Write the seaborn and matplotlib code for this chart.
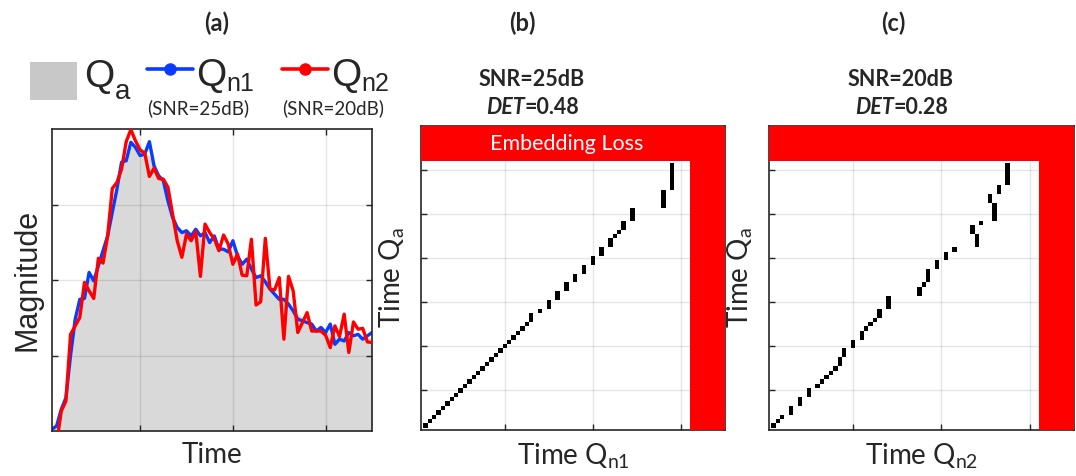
import matplotlib
matplotlib.use("Agg")
import matplotlib.pyplot as plt
import seaborn as sns
import pandas as pd
from matplotlib.patches import Rectangle

# ---------------- data ----------------
time_idx = [1, 2, 3, 4, 5, 6, 7, 8, 9, 10, 11, 12, 13, 14, 15, 16, 17, 18, 19, 20,
            21, 22, 23, 24, 25, 26, 27, 28, 29, 30, 31, 32, 33, 34, 35, 36, 37, 38, 39, 40,
            41, 42, 43, 44, 45, 46, 47, 48, 49, 50, 51, 52, 53, 54, 55, 56, 57, 58, 59, 60,
            61, 62, 63, 64, 65, 66, 67, 68, 69, 70]

qa = [0.0, 0.02, 0.07, 0.12, 0.26, 0.36, 0.42, 0.46, 0.50, 0.52,
      0.56, 0.60, 0.66, 0.73, 0.80, 0.87, 0.91, 0.94, 0.94, 0.93,
      0.92, 0.91, 0.88, 0.85, 0.82, 0.77, 0.72, 0.68, 0.665, 0.655,
      0.65, 0.645, 0.64, 0.635, 0.63, 0.62, 0.61, 0.60, 0.59, 0.58,
      0.57, 0.56, 0.55, 0.535, 0.52, 0.505, 0.49, 0.475, 0.46, 0.445,
      0.43, 0.42, 0.405, 0.39, 0.375, 0.36, 0.35, 0.34, 0.335, 0.33,
      0.325, 0.32, 0.315, 0.31, 0.31, 0.31, 0.31, 0.31, 0.31, 0.31]

qn1 = [0.006, 0.017, 0.072, 0.11, 0.25, 0.37, 0.436, 0.439, 0.525, 0.497,
       0.547, 0.597, 0.646, 0.724, 0.801, 0.890, 0.895, 0.956, 0.939, 0.912,
       0.917, 0.958, 0.878, 0.845, 0.829, 0.762, 0.707, 0.674, 0.657, 0.663,
       0.646, 0.668, 0.646, 0.657, 0.624, 0.646, 0.602, 0.602, 0.593, 0.630,
       0.580, 0.552, 0.569, 0.536, 0.508, 0.514, 0.494, 0.470, 0.453, 0.436,
       0.436, 0.420, 0.398, 0.370, 0.365, 0.359, 0.354, 0.331, 0.343, 0.326,
       0.354, 0.287, 0.304, 0.298, 0.326, 0.315, 0.320, 0.304, 0.315, 0.326]

qn2 = [-0.05, -0.04, 0.066, 0.099, 0.320, 0.348, 0.376, 0.492, 0.464, 0.439,
       0.572, 0.556, 0.646, 0.803, 0.823, 0.867, 0.958, 0.998, 0.961, 0.931,
       0.920, 0.843, 0.870, 0.836, 0.834, 0.807, 0.718, 0.630, 0.575, 0.652,
       0.630, 0.660, 0.512, 0.685, 0.657, 0.635, 0.597, 0.649, 0.619, 0.552,
       0.586, 0.516, 0.514, 0.635, 0.417, 0.428, 0.638, 0.470, 0.467, 0.508,
       0.304, 0.512, 0.464, 0.326, 0.359, 0.392, 0.331, 0.331, 0.331, 0.317,
       0.276, 0.348, 0.313, 0.387, 0.260, 0.361, 0.337, 0.340, 0.295, 0.293]

# recurrence plots: column, first row, number of consecutive recurrent rows
rp_b_col = [2, 3, 4, 5, 6, 7, 8, 9, 10, 11, 12, 13, 14, 15, 16, 17, 18, 19, 20, 21,
            22, 23, 24, 25, 26, 28, 30, 32, 34, 36, 38, 40, 42, 44, 45, 46, 47, 49, 56, 58]
rp_b_row = [2, 3, 4, 5, 6, 7, 8, 9, 10, 11, 12, 13, 14, 15, 16, 17, 18, 19, 20, 21,
            22, 23, 24, 25, 26, 28, 29, 31, 33, 35, 37, 39, 41, 43, 45, 46, 47, 49, 52, 56]
rp_b_len = [1, 1, 1, 1, 1, 1, 1, 1, 1, 1, 1, 1, 1, 1, 1, 1, 1, 1, 1, 1,
            1, 1, 1, 1, 2, 1, 2, 2, 2, 2, 2, 2, 2, 2, 1, 1, 2, 3, 4, 6]

rp_c_col = [2, 3, 4, 6, 8, 10, 12, 13, 14, 15, 16, 17, 18, 20, 22, 23, 24, 25, 26, 28,
            35, 36, 37, 39, 41, 43, 47, 48, 49, 51, 52, 53, 55]
rp_c_row = [2, 3, 4, 5, 7, 9, 11, 12, 13, 14, 15, 16, 18, 20, 22, 24, 25, 26, 27, 29,
            32, 34, 35, 38, 40, 42, 46, 43, 48, 53, 49, 55, 57]
rp_c_len = [1, 1, 1, 2, 2, 2, 1, 1, 1, 1, 1, 2, 2, 2, 2, 1, 1, 1, 2, 3,
            2, 1, 3, 2, 2, 1, 2, 3, 1, 2, 4, 2, 5]

n_valid = 62      # end of the valid (non-embedding-loss) region
n_total = 70

x_ticks = [20, 40, 60]
y_ticks_a = [0.25, 0.5, 0.75]
y_ticks_rp = [10, 20, 30, 40, 50, 60]

BLUE = "#0a3cff"
RED = "#ff0000"
GRAY = "#d9d9d9"

# ---------------- style ----------------
sns.set_style("ticks")
plt.rcParams["font.family"] = ["Lato", "DejaVu Sans"]
plt.rcParams["mathtext.fontset"] = "custom"
plt.rcParams["mathtext.rm"] = "Lato"
plt.rcParams["mathtext.it"] = "Lato:italic"
plt.rcParams["mathtext.bf"] = "Lato:bold"

W, H = 1076, 476
fig = plt.figure(figsize=(W / 100, H / 100), dpi=100)


def fax(l, t, w, h):
    return fig.add_axes([l / W, (H - t - h) / H, w / W, h / H])


ax_a = fax(52, 129, 320, 302)
ax_b = fax(421, 126, 304, 304)
ax_c = fax(769, 126, 305, 304)


def style_axes(ax, yt):
    ax.set_xticks(x_ticks)
    ax.set_yticks(yt)
    ax.tick_params(direction="in", length=4, width=1, top=True, right=True,
                   labelbottom=False, labelleft=False, color="#262626")
    ax.grid(True, color="k", alpha=0.10, lw=1)
    ax.set_axisbelow(True)
    for s in ax.spines.values():
        s.set_color("#262626")
        s.set_linewidth(1.2)
        s.set_visible(True)


# ---------------- panel (a) ----------------
df = pd.DataFrame({"t": time_idx, "Qa": qa, "Qn1": qn1, "Qn2": qn2})
ax_a.fill_between(df["t"], 0, df["Qa"], color=GRAY, lw=0, zorder=0.3)
sns.lineplot(data=df, x="t", y="Qn1", ax=ax_a, color=BLUE, lw=2.4,
             solid_joinstyle="round", zorder=2)
sns.lineplot(data=df, x="t", y="Qn2", ax=ax_a, color=RED, lw=2.4,
             solid_joinstyle="round", zorder=3)
ax_a.set_xlim(1, n_total)
ax_a.set_ylim(0, 1)
style_axes(ax_a, y_ticks_a)
ax_a.set_xlabel("Time", fontsize=20, labelpad=8)
ax_a.set_ylabel("Magnitude", fontsize=22, family="Liberation Sans", labelpad=7)


# ---------------- panels (b), (c) ----------------
def draw_rp(ax, cols, rows, lens, xlabel):
    ax.bar(cols, lens, bottom=[r - 0.5 for r in rows], width=1.0,
           color="black", lw=0, zorder=2)
    ax.axhspan(n_valid, n_total, color=RED, lw=0, zorder=4)
    ax.axvspan(n_valid, n_total, color=RED, lw=0, zorder=4)
    ax.set_xlim(1, n_total)
    ax.set_ylim(1, n_total)
    style_axes(ax, y_ticks_rp)
    ax.tick_params(top=False, right=False)
    ax.set_xlabel(xlabel, fontsize=20, labelpad=8)
    ax.set_ylabel(r"Time Q$_{\mathrm{a}}$", fontsize=20, labelpad=10)


draw_rp(ax_b, rp_b_col, rp_b_row, rp_b_len, r"Time Q$_{\mathrm{n1}}$")
draw_rp(ax_c, rp_c_col, rp_c_row, rp_c_len, r"Time Q$_{\mathrm{n2}}$")
ax_b.text((1 + n_total) / 2 - 1.5, (n_valid + n_total) / 2, "Embedding Loss",
          color="white", fontsize=15.5, ha="center", va="center", zorder=5)

# ---------------- overlay: titles and legend ----------------
ov = fig.add_axes([0, 0, 1, 1])
ov.set_xlim(0, W)
ov.set_ylim(H, 0)
ov.axis("off")

for cx, lab in [(217, "(a)"), (522, "(b)"), (893, "(c)")]:
    ov.text(cx, 23, lab, fontsize=17, weight="bold", ha="center", va="center")

for cx, snr, det in [(532, "SNR=25dB", "=0.48"), (901, "SNR=20dB", "=0.28")]:
    ov.text(cx, 79, snr, fontsize=15.5, weight="bold", ha="center", va="center")
    t1 = ov.text(cx - 46, 107, "DET", fontsize=15.5, weight="bold",
                 style="italic", ha="left", va="center")
    ov.annotate(det, xy=(1, 0.5), xycoords=t1, fontsize=15.5, weight="bold",
                ha="left", va="center")

# legend
ov.add_patch(Rectangle((30, 62), 47, 38, color="#c8c8c8", lw=0))
LEG = "Liberation Sans"
ov.text(84, 87, "Q", fontsize=28, family=LEG, ha="left", va="baseline")
ov.text(115, 99, "a", fontsize=20, family=LEG, ha="left", va="baseline")
for x0, col, sub, snr in [(147, BLUE, "n1", "(SNR=25dB)"), (282, RED, "n2", "(SNR=20dB)")]:
    ov.plot([x0, x0 + 46], [69, 69], color=col, lw=2.6)
    ov.plot([x0 + 23], [69], "o", color=col, ms=8)
    ov.text(x0 + 49, 86, "Q", fontsize=28, family=LEG, ha="left", va="baseline")
    ov.text(x0 + 79, 91, sub, fontsize=18, family=LEG, ha="left", va="baseline")
    ov.text(x0 + 51, 108, snr, fontsize=13.5, ha="center", va="center")

fig.savefig("out.png", dpi=100)
